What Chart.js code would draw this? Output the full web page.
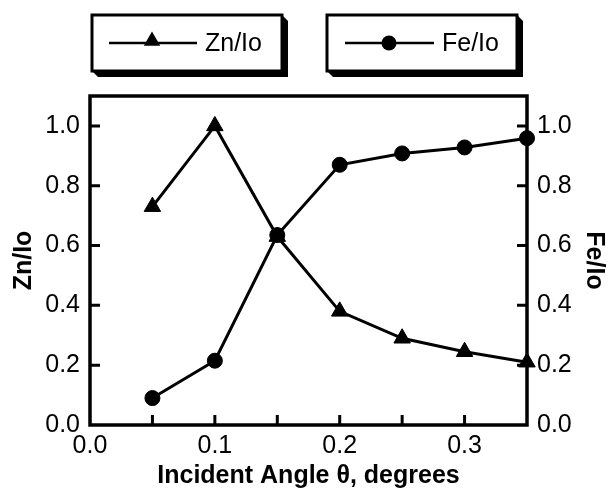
<!DOCTYPE html>
<html>
<head>
<meta charset="utf-8">
<script src="https://cdn.jsdelivr.net/npm/chart.js@4"></script>
<style>
  html, body { margin: 0; padding: 0; background: #fff; }
  #wrap { width: 611px; height: 500px; }
</style>
</head>
<body>
<div id="wrap"><canvas id="c" width="611" height="500"></canvas></div>
<script>
// ---- data ----
const angles = [0.05, 0.10, 0.15, 0.20, 0.25, 0.30, 0.35];
const znValues = [0.73, 1.00, 0.63, 0.38, 0.29, 0.245, 0.21];
const feValues = [0.09, 0.215, 0.635, 0.87, 0.908, 0.928, 0.959];
const xTickValues = [0, 0.05, 0.10, 0.15, 0.20, 0.25, 0.30, 0.35];
const xLabelValues = [0, 0.1, 0.2, 0.3];
const yTickValues = [0, 0.2, 0.4, 0.6, 0.8, 1.0];
const seriesNames = ['Zn/Io', 'Fe/Io'];
const axisTitles = { x: 'Incident Angle θ, degrees', y: 'Zn/Io', y2: 'Fe/Io' };

const FONT = '"Liberation Sans", Arial, Helvetica, sans-serif';
Chart.defaults.font.family = FONT;
Chart.defaults.color = '#000';

function near(a, b) { return Math.abs(a - b) < 1e-6; }

const framePlugin = {
  id: 'frame',
  afterDraw(chart) {
    const ctx = chart.ctx;
    const a = chart.chartArea;
    ctx.save();
    ctx.strokeStyle = '#000';
    ctx.lineWidth = 3;
    ctx.lineCap = 'butt';
    const tl = 10;
    const xs = chart.scales.x, ys = chart.scales.y, ys2 = chart.scales.y2;
    ctx.beginPath();
    xTickValues.forEach(v => {
      if (near(v, 0) || near(v, 0.35)) return;
      const px = xs.getPixelForValue(v);
      ctx.moveTo(px, a.bottom); ctx.lineTo(px, a.bottom - tl);
    });
    yTickValues.forEach(v => {
      if (near(v, 0)) return;
      const py = ys.getPixelForValue(v);
      ctx.moveTo(a.left, py); ctx.lineTo(a.left + tl, py);
      const py2 = ys2.getPixelForValue(v);
      ctx.moveTo(a.right, py2); ctx.lineTo(a.right - tl, py2);
    });
    ctx.stroke();
    ctx.lineWidth = 3.5;
    ctx.strokeRect(a.left, a.top, a.right - a.left, a.bottom - a.top);
    ctx.restore();
  },
  beforeDraw(chart) {
    const ctx = chart.ctx;
    ctx.save();
    ctx.fillStyle = '#fff';
    ctx.fillRect(0, 0, chart.width, chart.height);
    const boxes = [
      { x: 92, y: 15, w: 190, h: 56, name: seriesNames[0], marker: 'triangle', lx1: 109, lx2: 197, mx: 152, tx: 205 },
      { x: 327, y: 15, w: 190, h: 56, name: seriesNames[1], marker: 'circle', lx1: 345, lx2: 434, mx: 389, tx: 442 }
    ];
    boxes.forEach(b => {
      const s = 6;
      ctx.fillStyle = '#000';
      ctx.beginPath();
      ctx.moveTo(b.x + b.w, b.y);
      ctx.lineTo(b.x + b.w + s, b.y + s);
      ctx.lineTo(b.x + b.w + s, b.y + b.h + s);
      ctx.lineTo(b.x + s, b.y + b.h + s);
      ctx.lineTo(b.x, b.y + b.h);
      ctx.closePath();
      ctx.fill();
      ctx.fillStyle = '#fff';
      ctx.fillRect(b.x, b.y, b.w, b.h);
      ctx.strokeStyle = '#000';
      ctx.lineWidth = 3;
      ctx.strokeRect(b.x, b.y, b.w, b.h);
      const cy = b.y + 28;
      ctx.lineWidth = 2.5;
      ctx.beginPath();
      ctx.moveTo(b.lx1, cy); ctx.lineTo(b.lx2, cy);
      ctx.stroke();
      ctx.fillStyle = '#000';
      ctx.beginPath();
      if (b.marker === 'circle') {
        ctx.arc(b.mx, cy, 7.5, 0, Math.PI * 2);
      } else {
        const r = 9.5;
        for (let i = 0; i < 3; i++) {
          const ang = i * 2 * Math.PI / 3;
          const px = b.mx + Math.sin(ang) * r, py = cy - 2 - Math.cos(ang) * r;
          if (i === 0) ctx.moveTo(px, py); else ctx.lineTo(px, py);
        }
        ctx.closePath();
      }
      ctx.fill();
      ctx.font = '25px ' + FONT;
      ctx.textBaseline = 'middle';
      ctx.textAlign = 'left';
      ctx.fillText(b.name, b.tx, cy + 1);
    });
    ctx.restore();
  }
};

new Chart(document.getElementById('c'), {
  type: 'line',
  data: {
    datasets: [
      {
        label: seriesNames[0],
        data: angles.map((x, i) => ({ x, y: znValues[i] })),
        yAxisID: 'y',
        borderColor: '#000', backgroundColor: '#000', borderWidth: 3,
        pointStyle: 'triangle', pointRadius: 9.5, pointBorderWidth: 1,
        pointBackgroundColor: '#000', pointBorderColor: '#000',
        tension: 0, clip: false
      },
      {
        label: seriesNames[1],
        data: angles.map((x, i) => ({ x, y: feValues[i] })),
        yAxisID: 'y2',
        borderColor: '#000', backgroundColor: '#000', borderWidth: 3,
        pointStyle: 'circle', pointRadius: 7.5, pointBorderWidth: 1,
        pointBackgroundColor: '#000', pointBorderColor: '#000',
        tension: 0, clip: false
      }
    ]
  },
  options: {
    responsive: false,
    animation: false,
    events: [],
    layout: { padding: { top: 96, left: 0, right: 0, bottom: 0 } },
    plugins: { legend: { display: false }, tooltip: { enabled: false } },
    scales: {
      x: {
        type: 'linear', min: 0, max: 0.35,
        afterBuildTicks: s => { s.ticks = xTickValues.map(v => ({ value: v })); },
        afterFit: s => { s.height = 75; },
        grid: { display: false, drawTicks: false },
        border: { display: false },
        ticks: {
          autoSkip: false, maxRotation: 0, padding: 6,
          font: { size: 25 }, color: '#000',
          callback: v => xLabelValues.some(l => near(l, v)) ? Number(v).toFixed(1) : ''
        },
        title: { display: true, text: axisTitles.x, font: { size: 25, weight: 'bold' }, color: '#000', padding: { top: 0, bottom: 9 } }
      },
      y: {
        type: 'linear', position: 'left', min: 0, max: 1.1,
        afterBuildTicks: s => { s.ticks = yTickValues.map(v => ({ value: v })); },
        afterFit: s => { s.width = 90; },
        grid: { display: false, drawTicks: false },
        border: { display: false },
        ticks: { padding: 10, font: { size: 25 }, color: '#000', callback: v => Number(v).toFixed(1) },
        title: { display: true, text: axisTitles.y, font: { size: 25, weight: 'bold' }, color: '#000', padding: { top: 9, bottom: 0 } }
      },
      y2: {
        type: 'linear', position: 'right', min: 0, max: 1.1,
        afterBuildTicks: s => { s.ticks = yTickValues.map(v => ({ value: v })); },
        afterFit: s => { s.width = 84; },
        grid: { display: false, drawTicks: false },
        border: { display: false },
        ticks: { padding: 10, font: { size: 25 }, color: '#000', callback: v => Number(v).toFixed(1) },
        title: { display: true, text: axisTitles.y2, font: { size: 25, weight: 'bold' }, color: '#000', padding: { top: 2, bottom: 0 } }
      }
    }
  },
  plugins: [framePlugin]
});
</script>
</body>
</html>
